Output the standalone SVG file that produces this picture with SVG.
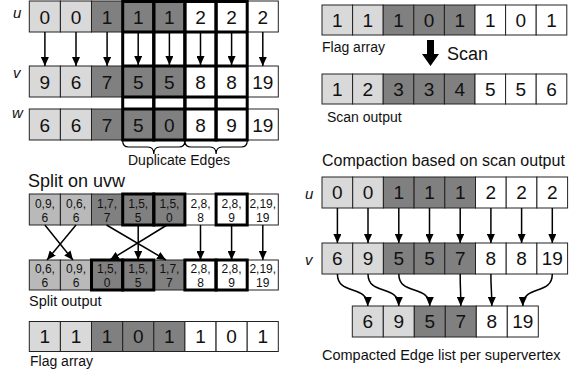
<svg xmlns="http://www.w3.org/2000/svg" width="577" height="373" viewBox="0 0 577 373">
<style>
text{font-family:"Liberation Sans",Arial,sans-serif;fill:#111}
.c{stroke:#222;stroke-width:1}
.L{fill:#d9d9d9}.D{fill:#808080}.W{fill:#fff}.M{fill:#b9b9b9}
.n{font-size:19px;text-anchor:middle}
.s{font-size:12px;text-anchor:middle}
.lab{font-size:15px;font-style:italic}
.cap{font-size:14px}
.tk{fill:none;stroke:#000;stroke-width:3}
.ar{stroke:#000;stroke-width:1.5;fill:none;marker-end:url(#ah)}
</style>
<defs>
<marker id="ah" markerWidth="9" markerHeight="8" refX="9" refY="4" orient="auto" markerUnits="userSpaceOnUse"><path d="M0,0 L9,4 L0,8 z" fill="#000"/></marker>
</defs>

<!-- top-left u/v/w -->
<g id="uvw">
<text class="lab" x="13" y="18">u</text>
<text class="lab" x="13" y="78">v</text>
<text class="lab" x="12" y="118">w</text>
<g id="u-row" class="c">
<rect class="L" x="29.3" y="1" width="31.1" height="31"/><rect class="L" x="60.4" y="1" width="31.1" height="31"/><rect class="D" x="91.5" y="1" width="31.1" height="31"/><rect class="D" x="122.7" y="1" width="31.1" height="31"/><rect class="D" x="153.8" y="1" width="31.1" height="31"/><rect class="W" x="184.9" y="1" width="31.1" height="31"/><rect class="W" x="216.1" y="1" width="31.1" height="31"/><rect class="W" x="247.2" y="1" width="31.1" height="31"/>
</g>
<g id="v-row" class="c">
<rect class="L" x="29.3" y="66" width="31.1" height="31"/><rect class="L" x="60.4" y="66" width="31.1" height="31"/><rect class="D" x="91.5" y="66" width="31.1" height="31"/><rect class="D" x="122.7" y="66" width="31.1" height="31"/><rect class="D" x="153.8" y="66" width="31.1" height="31"/><rect class="W" x="184.9" y="66" width="31.1" height="31"/><rect class="W" x="216.1" y="66" width="31.1" height="31"/><rect class="W" x="247.2" y="66" width="31.1" height="31"/>
</g>
<g id="w-row" class="c">
<rect class="L" x="29.3" y="109" width="31.1" height="31"/><rect class="L" x="60.4" y="109" width="31.1" height="31"/><rect class="D" x="91.5" y="109" width="31.1" height="31"/><rect class="D" x="122.7" y="109" width="31.1" height="31"/><rect class="D" x="153.8" y="109" width="31.1" height="31"/><rect class="W" x="184.9" y="109" width="31.1" height="31"/><rect class="W" x="216.1" y="109" width="31.1" height="31"/><rect class="W" x="247.2" y="109" width="31.1" height="31"/>
</g>
<g id="dup-boxes">
<rect class="tk" x="122.7" y="1.5" width="31.1" height="138.5"/><rect class="tk" x="153.8" y="1.5" width="31.1" height="138.5"/><rect class="tk" x="184.9" y="1.5" width="31.1" height="138.5"/><rect class="tk" x="216.1" y="1.5" width="31.1" height="138.5"/>
<path class="tk" d="M122.7,32H247.2M122.7,66H247.2M122.7,97H247.2M122.7,109H247.2"/>
</g>
<g class="n">
<text x="44.9" y="24">0</text><text x="76" y="24">0</text><text x="107.1" y="24">1</text><text x="138.2" y="24">1</text><text x="169.4" y="24">1</text><text x="200.5" y="24">2</text><text x="231.6" y="24">2</text><text x="262.8" y="24">2</text>
<text x="44.9" y="89">9</text><text x="76" y="89">6</text><text x="107.1" y="89">7</text><text x="138.2" y="89">5</text><text x="169.4" y="89">5</text><text x="200.5" y="89">8</text><text x="231.6" y="89">8</text><text x="262.8" y="89">19</text>
<text x="44.9" y="132">6</text><text x="76" y="132">6</text><text x="107.1" y="132">7</text><text x="138.2" y="132">5</text><text x="169.4" y="132">0</text><text x="200.5" y="132">8</text><text x="231.6" y="132">9</text><text x="262.8" y="132">19</text>
</g>
<path d="M122.7,141Q122.7,147 128.7,147L147.8,147Q153.8,147 153.8,154Q153.8,147 159.8,147L178.9,147Q184.9,147 184.9,141M184.9,141Q184.9,147 190.9,147L210.1,147Q216.1,147 216.1,154Q216.1,147 222.1,147L241.2,147Q247.2,147 247.2,141" fill="none" stroke="#000" stroke-width="1.2"/>
<text class="cap" x="128" y="165">Duplicate Edges</text>
</g>

<!-- split on uvw -->
<g id="split">
<text x="28" y="187" style="font-size:18px">Split on uvw</text>
<g id="split-in" class="c">
<rect class="M" x="29.3" y="194" width="31.1" height="31"/><rect class="M" x="60.4" y="194" width="31.1" height="31"/><rect class="D" x="91.5" y="194" width="31.1" height="31"/><rect class="D" x="122.7" y="194" width="31.1" height="31"/><rect class="D" x="153.8" y="194" width="31.1" height="31"/><rect class="W" x="184.9" y="194" width="31.1" height="31"/><rect class="W" x="216.1" y="194" width="31.1" height="31"/><rect class="W" x="247.2" y="194" width="31.1" height="31"/>
<rect class="tk" x="122.7" y="194" width="31.1" height="31"/><rect class="tk" x="153.8" y="194" width="31.1" height="31"/><rect class="tk" x="216.1" y="194" width="31.1" height="31"/>
</g>
<g class="s">
<text x="44.9" y="207.5">0,9,</text><text x="44.9" y="221.5">6</text>
<text x="76" y="207.5">0,6,</text><text x="76" y="221.5">6</text>
<text x="107.1" y="207.5">1,7,</text><text x="107.1" y="221.5">7</text>
<text x="138.2" y="207.5">1,5,</text><text x="138.2" y="221.5">5</text>
<text x="169.4" y="207.5">1,5,</text><text x="169.4" y="221.5">0</text>
<text x="200.5" y="207.5">2,8,</text><text x="200.5" y="221.5">8</text>
<text x="231.6" y="207.5">2,8,</text><text x="231.6" y="221.5">9</text>
<text x="262.8" y="207.5">2,19,</text><text x="262.8" y="221.5">19</text>
</g>
<g id="split-out" class="c">
<rect class="M" x="29.3" y="260" width="31.1" height="30"/><rect class="M" x="60.4" y="260" width="31.1" height="30"/><rect class="D" x="91.5" y="260" width="31.1" height="30"/><rect class="D" x="122.7" y="260" width="31.1" height="30"/><rect class="D" x="153.8" y="260" width="31.1" height="30"/><rect class="W" x="184.9" y="260" width="31.1" height="30"/><rect class="W" x="216.1" y="260" width="31.1" height="30"/><rect class="W" x="247.2" y="260" width="31.1" height="30"/>
<rect class="tk" x="91.5" y="260" width="31.1" height="30"/><rect class="tk" x="122.7" y="260" width="31.1" height="30"/><rect class="tk" x="184.9" y="260" width="31.1" height="30"/><rect class="tk" x="216.1" y="260" width="31.1" height="30"/>
</g>
<g class="s">
<text x="44.9" y="273">0,6,</text><text x="44.9" y="287">6</text>
<text x="76" y="273">0,9,</text><text x="76" y="287">6</text>
<text x="107.1" y="273">1,5,</text><text x="107.1" y="287">0</text>
<text x="138.2" y="273">1,5,</text><text x="138.2" y="287">5</text>
<text x="169.4" y="273">1,7,</text><text x="169.4" y="287">7</text>
<text x="200.5" y="273">2,8,</text><text x="200.5" y="287">8</text>
<text x="231.6" y="273">2,8,</text><text x="231.6" y="287">9</text>
<text x="262.8" y="273">2,19,</text><text x="262.8" y="287">19</text>
</g>
<text class="cap" x="29" y="306" style="font-size:14.5px">Split output</text>
</g>

<g id="flag-left">
<g class="c">
<rect class="L" x="29.3" y="321.5" width="31.1" height="30"/><rect class="L" x="60.4" y="321.5" width="31.1" height="30"/><rect class="D" x="91.5" y="321.5" width="31.1" height="30"/><rect class="D" x="122.7" y="321.5" width="31.1" height="30"/><rect class="D" x="153.8" y="321.5" width="31.1" height="30"/><rect class="W" x="184.9" y="321.5" width="31.1" height="30"/><rect class="W" x="216.1" y="321.5" width="31.1" height="30"/><rect class="W" x="247.2" y="321.5" width="31.1" height="30"/>
</g>
<g class="n">
<text x="44.9" y="343">1</text><text x="76" y="343">1</text><text x="107.1" y="343">1</text><text x="138.2" y="343">0</text><text x="169.4" y="343">1</text><text x="200.5" y="343">1</text><text x="231.6" y="343">0</text><text x="262.8" y="343">1</text>
</g>
<text class="cap" x="30" y="366">Flag array</text>
</g>

<!-- right side -->
<g id="flag-right">
<g class="c">
<rect class="L" x="322" y="5" width="30.6" height="30"/><rect class="L" x="352.6" y="5" width="30.6" height="30"/><rect class="D" x="383.2" y="5" width="30.6" height="30"/><rect class="D" x="413.8" y="5" width="30.6" height="30"/><rect class="D" x="444.4" y="5" width="30.6" height="30"/><rect class="W" x="475" y="5" width="30.6" height="30"/><rect class="W" x="505.6" y="5" width="30.6" height="30"/><rect class="W" x="536.2" y="5" width="30.6" height="30"/>
</g>
<g class="n">
<text x="337.3" y="27">1</text><text x="367.9" y="27">1</text><text x="398.5" y="27">1</text><text x="429.1" y="27">0</text><text x="459.7" y="27">1</text><text x="490.3" y="27">1</text><text x="520.9" y="27">0</text><text x="551.5" y="27">1</text>
</g>
<text class="cap" x="322" y="52">Flag array</text>
</g>

<g id="scan-arrow">
<path d="M427,40H434V54H439L430.5,66L422,54H427Z" fill="#000"/>
<text x="447" y="60" style="font-size:18px">Scan</text>
</g>

<g id="scan-out">
<g class="c">
<rect class="L" x="322" y="74" width="30.6" height="30"/><rect class="L" x="352.6" y="74" width="30.6" height="30"/><rect class="D" x="383.2" y="74" width="30.6" height="30"/><rect class="D" x="413.8" y="74" width="30.6" height="30"/><rect class="D" x="444.4" y="74" width="30.6" height="30"/><rect class="W" x="475" y="74" width="30.6" height="30"/><rect class="W" x="505.6" y="74" width="30.6" height="30"/><rect class="W" x="536.2" y="74" width="30.6" height="30"/>
</g>
<g class="n">
<text x="337.3" y="96">1</text><text x="367.9" y="96">2</text><text x="398.5" y="96">3</text><text x="429.1" y="96">3</text><text x="459.7" y="96">4</text><text x="490.3" y="96">5</text><text x="520.9" y="96">5</text><text x="551.5" y="96">6</text>
</g>
<text class="cap" x="327" y="122">Scan output</text>
</g>

<g id="compaction">
<text x="322" y="166" style="font-size:16px">Compaction based on scan output</text>
<text class="lab" x="305" y="199">u</text>
<text class="lab" x="305" y="265">v</text>
<g class="c">
<rect class="L" x="322" y="177" width="30.7" height="31"/><rect class="L" x="352.7" y="177" width="30.7" height="31"/><rect class="D" x="383.4" y="177" width="30.7" height="31"/><rect class="D" x="414.1" y="177" width="30.7" height="31"/><rect class="D" x="444.8" y="177" width="30.7" height="31"/><rect class="W" x="475.5" y="177" width="30.7" height="31"/><rect class="W" x="506.2" y="177" width="30.7" height="31"/><rect class="W" x="536.9" y="177" width="30.7" height="31"/>
<rect class="L" x="322" y="243" width="30.7" height="31"/><rect class="L" x="352.7" y="243" width="30.7" height="31"/><rect class="D" x="383.4" y="243" width="30.7" height="31"/><rect class="D" x="414.1" y="243" width="30.7" height="31"/><rect class="D" x="444.8" y="243" width="30.7" height="31"/><rect class="W" x="475.5" y="243" width="30.7" height="31"/><rect class="W" x="506.2" y="243" width="30.7" height="31"/><rect class="W" x="536.9" y="243" width="30.7" height="31"/>
</g>
<g class="n">
<text x="337.4" y="199">0</text><text x="368" y="199">0</text><text x="398.8" y="199">1</text><text x="429.5" y="199">1</text><text x="460.2" y="199">1</text><text x="490.9" y="199">2</text><text x="521.6" y="199">2</text><text x="552.3" y="199">2</text>
<text x="337.4" y="265">6</text><text x="368" y="265">9</text><text x="398.8" y="265">5</text><text x="429.5" y="265">5</text><text x="460.2" y="265">7</text><text x="490.9" y="265">8</text><text x="521.6" y="265">8</text><text x="552.3" y="265">19</text>
</g>
</g>

<g id="compacted">
<g class="c">
<rect class="L" x="352.3" y="306" width="31" height="31"/><rect class="L" x="383.3" y="306" width="31" height="31"/><rect class="D" x="414.3" y="306" width="31" height="31"/><rect class="D" x="445.3" y="306" width="31" height="31"/><rect class="W" x="476.3" y="306" width="31" height="31"/><rect class="W" x="507.3" y="306" width="31" height="31"/>
</g>
<g class="n">
<text x="367.8" y="328">6</text><text x="398.8" y="328">9</text><text x="429.8" y="328">5</text><text x="460.8" y="328">7</text><text x="491.8" y="328">8</text><text x="522.8" y="328">19</text>
</g>
<text class="cap" x="322" y="360" style="font-size:14.5px">Compacted Edge list per supervertex</text>
</g>

<g id="connectors">
<line class="ar" x1="44.9" y1="32" x2="44.9" y2="66"/>
<line class="ar" x1="76" y1="32" x2="76" y2="66"/>
<line class="ar" x1="107.1" y1="32" x2="107.1" y2="66"/>
<line class="ar" x1="138.2" y1="33" x2="138.2" y2="65"/>
<line class="ar" x1="169.4" y1="33" x2="169.4" y2="65"/>
<line class="ar" x1="200.5" y1="33" x2="200.5" y2="65"/>
<line class="ar" x1="231.6" y1="33" x2="231.6" y2="65"/>
<line class="ar" x1="262.8" y1="32" x2="262.8" y2="66"/>
<line class="ar" x1="44.9" y1="225" x2="73" y2="260"/>
<line class="ar" x1="76" y1="225" x2="47" y2="260"/>
<line class="ar" x1="106.5" y1="225" x2="166" y2="260"/>
<line class="ar" x1="138.2" y1="225" x2="138.2" y2="260"/>
<line class="ar" x1="167" y1="225" x2="110" y2="260"/>
<line class="ar" x1="200.5" y1="225" x2="200.5" y2="260"/>
<line class="ar" x1="231.6" y1="225" x2="231.6" y2="260"/>
<line class="ar" x1="262.8" y1="225" x2="262.8" y2="260"/>
<line class="ar" x1="337.4" y1="208" x2="337.4" y2="243"/>
<line class="ar" x1="368" y1="208" x2="368" y2="243"/>
<line class="ar" x1="398.8" y1="208" x2="398.8" y2="243"/>
<line class="ar" x1="429.5" y1="208" x2="429.5" y2="243"/>
<line class="ar" x1="460.2" y1="208" x2="460.2" y2="243"/>
<line class="ar" x1="490.9" y1="208" x2="490.9" y2="243"/>
<line class="ar" x1="521.6" y1="208" x2="521.6" y2="243"/>
<line class="ar" x1="552.3" y1="208" x2="552.3" y2="243"/>
<path class="ar" d="M337.4,274C337.4,296 367.8,284 367.8,306"/>
<path class="ar" d="M368,274C368,296 398.8,284 398.8,306"/>
<path class="ar" d="M398.8,274C398.8,296 429.8,284 429.8,306"/>
<path class="ar" d="M460.2,274C460.2,292 460.8,288 460.8,306"/>
<path class="ar" d="M490.9,274C490.9,292 491.8,288 491.8,306"/>
<path class="ar" d="M552.3,274C552.3,296 522.8,284 522.8,306"/>
</g>
</svg>
